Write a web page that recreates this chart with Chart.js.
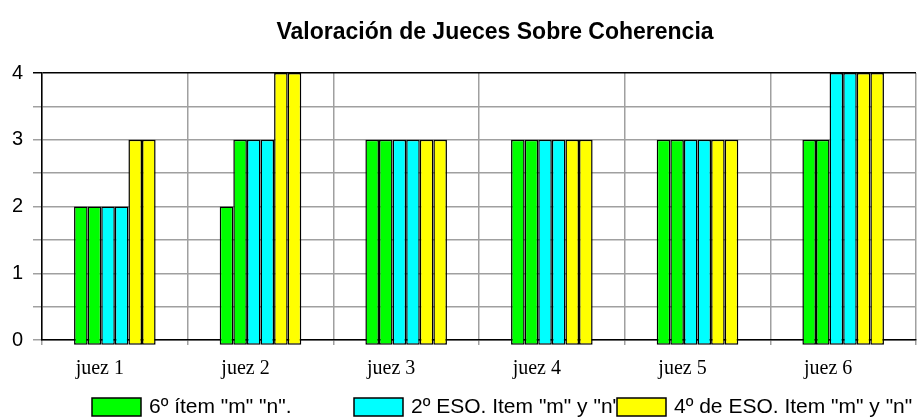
<!DOCTYPE html>
<html>
<head>
<meta charset="utf-8">
<script src="https://cdn.jsdelivr.net/npm/chart.js@4.4.0/dist/chart.umd.min.js"></script>
<style>
  html, body { margin: 0; padding: 0; background: #fff; }
  #wrap { width: 919px; height: 419px; }
</style>
</head>
<body>
<div id="wrap"><canvas id="chart"></canvas></div>
<script>
const categories = ["juez 1", "juez 2", "juez 3", "juez 4", "juez 5", "juez 6"];
const seriesLabels = ['6º ítem "m" "n".', '2º ESO. Item "m" y "n"', '4º de ESO. Item "m" y "n"'];
const green1 = [2, 2, 3, 3, 3, 3];
const green2 = [2, 3, 3, 3, 3, 3];
const cyan1 = [2, 3, 3, 3, 3, 4];
const cyan2 = [2, 3, 3, 3, 3, 4];
const yellow1 = [3, 4, 3, 3, 3, 4];
const yellow2 = [3, 4, 3, 3, 3, 4];
const yTicks = [0, 1, 2, 3, 4];

const GREEN = "#00ff00";
const CYAN = "#00ffff";
const YELLOW = "#ffff00";
const GRID = "#a0a0a0";

function bar(label, data, color) {
  return {
    label, data,
    backgroundColor: color,
    borderColor: "#000",
    borderWidth: 1.5,
    borderSkipped: false,
    base: -0.07,
    clip: false,
  };
}

// title drawn a bit right of the plot centre, like the original
const titlePlugin = {
  id: "titleText",
  afterDraw(chart) {
    const c = chart.ctx;
    c.save();
    c.font = "bold 23px 'Liberation Sans', Arial, sans-serif";
    c.fillStyle = "#000";
    c.textAlign = "center";
    c.textBaseline = "middle";
    c.fillText("Valoración de Jueces Sobre Coherencia", 495, 33);
    c.restore();
  },
};

// legend with fixed slots; each text is clipped at the next box
const legendPlugin = {
  id: "slotLegend",
  afterDraw(chart) {
    const c = chart.ctx;
    const slots = [92, 354, 617];
    const colors = [0, 2, 4].map((i) => chart.data.datasets[i].backgroundColor);
    c.save();
    c.font = "21px 'Liberation Sans', Arial, sans-serif";
    c.textBaseline = "middle";
    slots.forEach((x, i) => {
      const next = slots[i + 1] || chart.width;
      c.save();
      c.beginPath();
      c.rect(x, 390, next - x, 29);
      c.clip();
      c.fillStyle = "#000";
      c.fillText(seriesLabels[i], x + 57, 407);
      c.restore();
      c.fillStyle = colors[i];
      c.fillRect(x, 398, 49, 18);
      c.lineWidth = 1.5;
      c.strokeStyle = "#000";
      c.strokeRect(x, 398, 49, 18);
    });
    c.restore();
  },
};

new Chart(document.getElementById("chart"), {
  type: "bar",
  data: {
    labels: categories,
    datasets: [
      bar(seriesLabels[0], green1, GREEN),
      bar(seriesLabels[0], green2, GREEN),
      bar(seriesLabels[1], cyan1, CYAN),
      bar(seriesLabels[1], cyan2, CYAN),
      bar(seriesLabels[2], yellow1, YELLOW),
      bar(seriesLabels[2], yellow2, YELLOW),
    ],
  },
  options: {
    responsive: true,
    maintainAspectRatio: false,
    animation: false,
    layout: { padding: { top: 73, right: 3, left: 0, bottom: 0 } },
    datasets: { bar: { categoryPercentage: 0.56, barPercentage: 1 } },
    plugins: {
      legend: { display: false },
      title: { display: false },
      tooltip: { enabled: false },
    },
    scales: {
      x: {
        afterFit(scale) { scale.height = 79; },
        grid: { color: GRID, lineWidth: 1.5, tickLength: 5, offset: true },
        border: { color: "#000", width: 1.5 },
        ticks: {
          color: "#000",
          padding: 12,
          labelOffset: -15,
          font: { family: "'Liberation Serif', 'Times New Roman', serif", size: 20 },
        },
      },
      y: {
        min: 0,
        max: 4,
        afterFit(scale) { scale.width = 42; },
        afterBuildTicks(scale) {
          const t = [];
          yTicks.forEach((v, i) => {
            t.push({ value: v });
            if (i < yTicks.length - 1) t.push({ value: v + 0.5 });
          });
          scale.ticks = t;
        },
        grid: {
          color: (ctx) => (ctx.tick && ctx.tick.value === 4 ? "#000" : GRID),
          lineWidth: 1.5,
          tickLength: 9,
        },
        border: { color: "#000", width: 1.5 },
        ticks: {
          color: "#000",
          padding: 10,
          font: { family: "'Liberation Sans', Arial, sans-serif", size: 20 },
          callback: (v) => (yTicks.includes(v) ? String(v) : ""),
        },
      },
    },
  },
  plugins: [titlePlugin, legendPlugin],
});
</script>
</body>
</html>
